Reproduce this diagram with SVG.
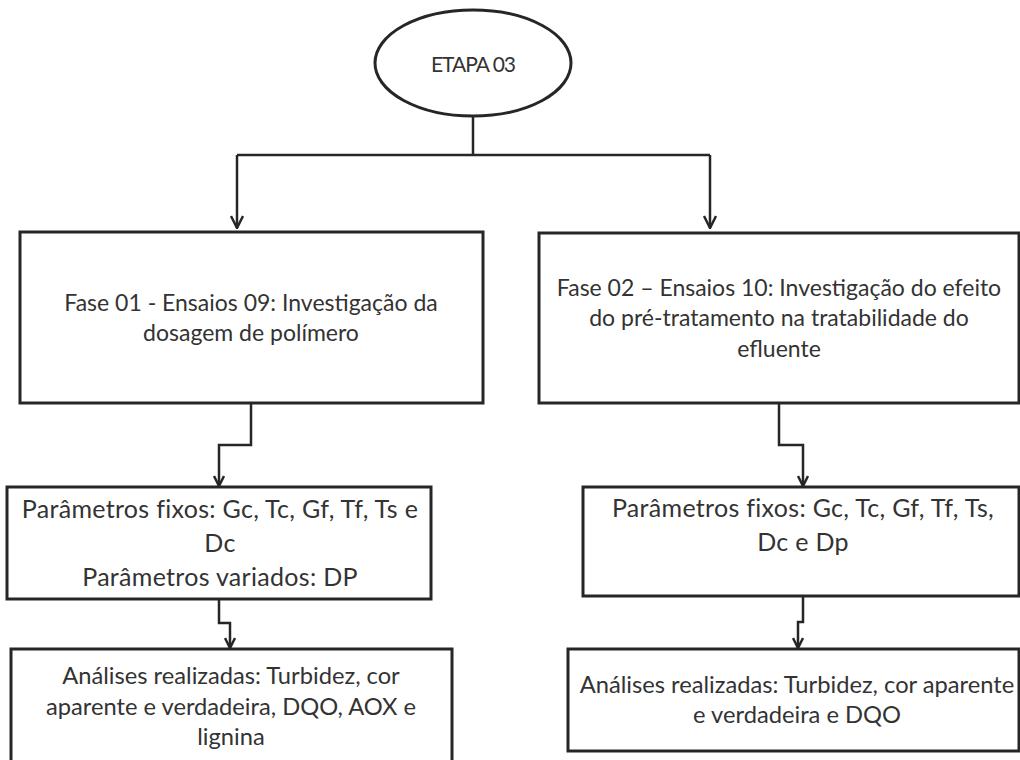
<svg xmlns="http://www.w3.org/2000/svg" width="1020" height="760" viewBox="0 0 1020 760">
  <style>
    .shape { fill: #ffffff; stroke: #262626; stroke-width: 3; }
    .wire { fill: none; stroke: #262626; stroke-width: 2.5; }
    .label { font-family: Lato, "Open Sans", "Liberation Sans", sans-serif; fill: #333333; text-anchor: middle; }
    .t-phase { font-size: 23px; }
    .t-param { font-size: 25px; letter-spacing: 0.3px; }
    .t-anal { font-size: 23.7px; }
  </style>
  <defs>
    <marker id="head" viewBox="0 0 14 14" refX="13" refY="7" markerWidth="14" markerHeight="14" markerUnits="userSpaceOnUse" orient="auto">
      <path d="M1,1 L13,7 L1,13" fill="none" stroke="#262626" stroke-width="2.5"/>
    </marker>
    <marker id="head-s" viewBox="0 0 12 12" refX="11" refY="6" markerWidth="12" markerHeight="12" markerUnits="userSpaceOnUse" orient="auto">
      <path d="M1,1 L11,6 L1,11" fill="none" stroke="#262626" stroke-width="2.5"/>
    </marker>
  </defs>
  <rect width="1020" height="760" fill="#ffffff"/>

  <!-- connectors -->
  <g id="connectors">
    <path class="wire" d="M473,117 V155"/>
    <path class="wire" d="M237,155 H710"/>
    <path class="wire" d="M237,155 V228" marker-end="url(#head)"/>
    <path class="wire" d="M710,155 V228" marker-end="url(#head)"/>
    <path class="wire" d="M251,403 V445 H219 V486" marker-end="url(#head-s)"/>
    <path class="wire" d="M779,403 V445 H803 V486" marker-end="url(#head-s)"/>
    <path class="wire" d="M219,599 V623 H230 V648" marker-end="url(#head-s)"/>
    <path class="wire" d="M803,596 V622 H798 V648" marker-end="url(#head-s)"/>
  </g>

  <!-- start node -->
  <g id="etapa">
    <ellipse class="shape" cx="473" cy="63" rx="98" ry="53"/>
    <text class="label" x="473" y="72" font-size="21" letter-spacing="-1">ETAPA 03</text>
  </g>

  <!-- phase 01 column -->
  <g id="fase01">
    <rect class="shape" x="20" y="232" width="463" height="171"/>
    <text class="label t-phase" x="251" y="311">Fase 01 - Ensaios 09: Investigação da</text>
    <text class="label t-phase" x="251" y="341">dosagem de polímero</text>
  </g>
  <g id="parametros01">
    <rect class="shape" x="7" y="487" width="424" height="112"/>
    <text class="label t-param" x="220" y="518">Parâmetros fixos: Gc, Tc, Gf, Tf, Ts e</text>
    <text class="label t-param" x="220" y="552">Dc</text>
    <text class="label t-param" x="220" y="586">Parâmetros variados: DP</text>
  </g>
  <g id="analises01">
    <rect class="shape" x="11" y="649" width="441" height="130"/>
    <text class="label t-anal" x="231" y="684">Análises realizadas: Turbidez, cor</text>
    <text class="label t-anal" x="231" y="715">aparente e verdadeira, DQO, AOX e</text>
    <text class="label t-anal" x="231" y="745">lignina</text>
  </g>

  <!-- phase 02 column -->
  <g id="fase02">
    <rect class="shape" x="539" y="233" width="480" height="170"/>
    <text class="label t-phase" x="779" y="296">Fase 02 – Ensaios 10: Investigação do efeito</text>
    <text class="label t-phase" x="779" y="326">do pré-tratamento na tratabilidade do</text>
    <text class="label t-phase" x="779" y="357">efluente</text>
  </g>
  <g id="parametros02">
    <rect class="shape" x="583" y="487" width="436" height="109"/>
    <text class="label t-param" x="803" y="517">Parâmetros fixos: Gc, Tc, Gf, Tf, Ts,</text>
    <text class="label t-param" x="803" y="551">Dc e Dp</text>
  </g>
  <g id="analises02">
    <rect class="shape" x="568" y="649" width="451" height="102"/>
    <text class="label t-anal" x="797" y="693">Análises realizadas: Turbidez, cor aparente</text>
    <text class="label t-anal" x="797" y="723">e verdadeira e DQO</text>
  </g>
</svg>
